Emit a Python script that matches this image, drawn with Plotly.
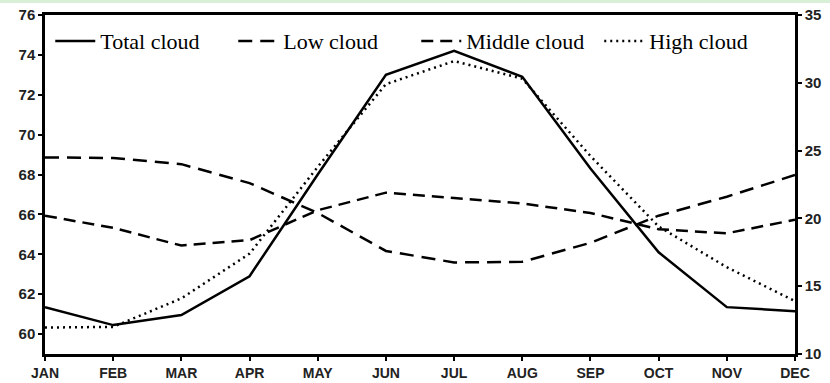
import plotly.graph_objects as go

months = ["JAN", "FEB", "MAR", "APR", "MAY", "JUN", "JUL", "AUG", "SEP", "OCT", "NOV", "DEC"]
total_cloud = [61.35, 60.45, 60.95, 62.9, 68.0, 73.0, 74.2, 72.9, 68.3, 64.1, 61.35, 61.15]
low_cloud = [24.5, 24.45, 24.0, 22.6, 20.4, 17.6, 16.75, 16.8, 18.2, 20.2, 21.6, 23.2]
middle_cloud = [20.2, 19.3, 18.0, 18.4, 20.6, 21.9, 21.5, 21.1, 20.4, 19.2, 18.9, 19.9]
high_cloud = [11.95, 12.0, 14.1, 17.4, 23.8, 29.9, 31.6, 30.3, 24.6, 19.4, 16.4, 13.9]

left_ticks = [60, 62, 64, 66, 68, 70, 72, 74, 76]
right_ticks = [10, 15, 20, 25, 30, 35]

fig = go.Figure()
fig.add_trace(go.Scatter(x=months, y=total_cloud, name="Total cloud", mode="lines",
                         line=dict(color="black", width=2.5, dash="solid"), yaxis="y"))
fig.add_trace(go.Scatter(x=months, y=low_cloud, name="Low cloud", mode="lines",
                         line=dict(color="black", width=2.5, dash="14px,8px"), yaxis="y2"))
fig.add_trace(go.Scatter(x=months, y=middle_cloud, name="Middle cloud", mode="lines",
                         line=dict(color="black", width=2.5, dash="12px,7px"), yaxis="y2"))
fig.add_trace(go.Scatter(x=months, y=high_cloud, name="High cloud", mode="lines",
                         line=dict(color="black", width=2.5, dash="2px,4px"), yaxis="y2"))

tickfont = dict(family="Liberation Sans, Arial", size=15, color="#222", weight="bold")
xtickfont = dict(family="Liberation Sans, Arial", size=14, color="#222", weight="bold")
axis_common = dict(showline=True, linecolor="black", linewidth=2.5, automargin=False,
                   ticks="outside", ticklen=4, tickcolor="black", tickwidth=1.5,
                   showgrid=False, zeroline=False)

fig.update_layout(
    width=830, height=383,
    margin=dict(l=45, r=35, t=15, b=29),
    paper_bgcolor="white", plot_bgcolor="white",
    showlegend=True,
    legend=dict(orientation="h", x=0.007, y=0.985, xanchor="left", yanchor="top",
                font=dict(family="Liberation Serif, Times New Roman", size=22, color="black"),
                bgcolor="rgba(0,0,0,0)", itemwidth=40, entrywidth=128, tracegroupgap=0),
    xaxis=dict(range=[0, 11], mirror=True, ticklabelstandoff=0, tickfont=xtickfont, **axis_common),
    yaxis=dict(range=[59, 76], tickvals=left_ticks, tickfont=tickfont, **axis_common),
    yaxis2=dict(range=[10, 35], tickvals=right_ticks, overlaying="y", side="right",
                tickfont=tickfont, **axis_common),
)
fig.add_shape(type="line", xref="paper", yref="paper", x0=-0.06, x1=1.05, y0=1.04, y1=1.04,
              line=dict(color="#d8f0d8", width=3))

fig.write_html("out.html", config={"displayModeBar": False},
               post_script="document.body.style.margin='0';")
